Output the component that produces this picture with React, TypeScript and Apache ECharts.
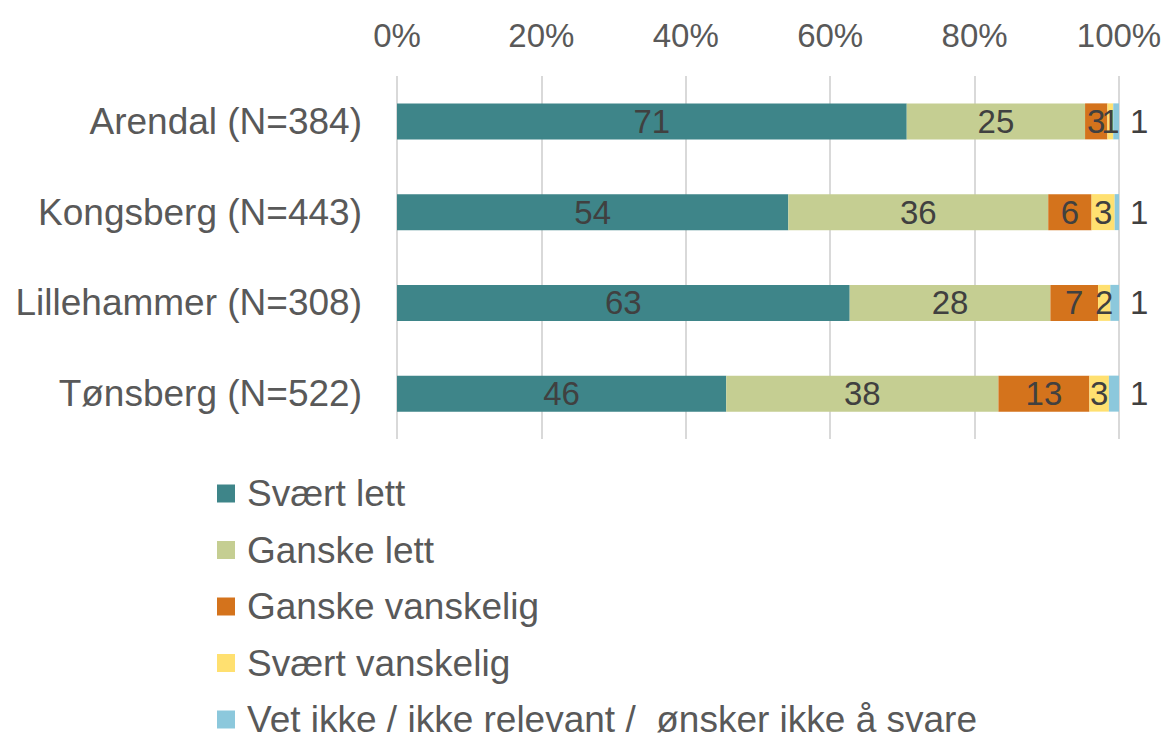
import React, { useEffect, useRef } from "react";
import * as echarts from "echarts";

const categories = ["Arendal (N=384)", "Kongsberg (N=443)", "Lillehammer (N=308)", "Tønsberg (N=522)"];
const seriesNames = [
  "Svært lett",
  "Ganske lett",
  "Ganske vanskelig",
  "Svært vanskelig",
  "Vet ikke / ikke relevant /  ønsker ikke å svare",
];
const sveartLett = [70.6, 54.2, 62.7, 45.6];
const ganskeLett = [24.7, 36.0, 27.8, 37.7];
const ganskeVanskelig = [3.1, 6.0, 6.6, 12.6];
const sveartVanskelig = [0.8, 3.2, 1.7, 2.7];
const vetIkke = [0.8, 0.6, 1.2, 1.4];
const xTicks = [0, 20, 40, 60, 80, 100];
const colors = ["#3E8589", "#C5CE92", "#D4731C", "#FFE070", "#8CC8DC"];

const FONT = "Arial, 'Liberation Sans', sans-serif";

export default function App() {
  const ref = useRef<HTMLDivElement>(null);
  useEffect(() => {
    if (!ref.current) return;
    const chart = echarts.init(ref.current, null, { renderer: "svg" });
    const data = [sveartLett, ganskeLett, ganskeVanskelig, sveartVanskelig, vetIkke];
    chart.setOption({
      animation: false,
      textStyle: { fontFamily: FONT },
      grid: { left: 397, right: 49, top: 76, bottom: 300, containLabel: false },
      xAxis: {
        type: "value",
        position: "top",
        min: xTicks[0],
        max: xTicks[xTicks.length - 1],
        interval: 20,
        axisLine: { show: false },
        axisTick: { show: false },
        axisLabel: {
          formatter: "{value}%",
          fontSize: 33,
          color: "#595959",
          fontFamily: FONT,
          margin: 24,
        },
        splitLine: { lineStyle: { color: "#D9D9D9", width: 2 } },
      },
      yAxis: {
        type: "category",
        data: categories,
        inverse: true,
        axisLine: { show: false },
        axisTick: { show: false },
        axisLabel: { fontSize: 37, color: "#595959", fontFamily: FONT, margin: 35 },
      },
      legend: {
        orient: "vertical",
        left: 217,
        top: 475,
        height: 300,
        padding: 0,
        itemWidth: 18,
        itemHeight: 18,
        itemGap: 19.5,
        icon: "rect",
        textStyle: {
          fontSize: 37,
          color: "#595959",
          fontFamily: FONT,
          padding: [0, 0, 0, 7],
        },
        data: seriesNames,
      },
      series: seriesNames.map((name, i) => ({
        name,
        type: "bar",
        stack: "total",
        barWidth: 36,
        data: data[i],
        itemStyle: { color: colors[i] },
        label: {
          show: true,
          position: i === 4 ? "right" : "inside",
          distance: 11,
          fontSize: 33,
          color: "#404040",
          fontFamily: FONT,
          formatter: (p: any) => String(Math.round(p.value)),
        },
      })),
    });
    return () => chart.dispose();
  }, []);
  return (
    <div
      ref={ref}
      style={{ position: "fixed", left: 0, top: 0, width: 1168, height: 739, background: "#fff" }}
    />
  );
}
